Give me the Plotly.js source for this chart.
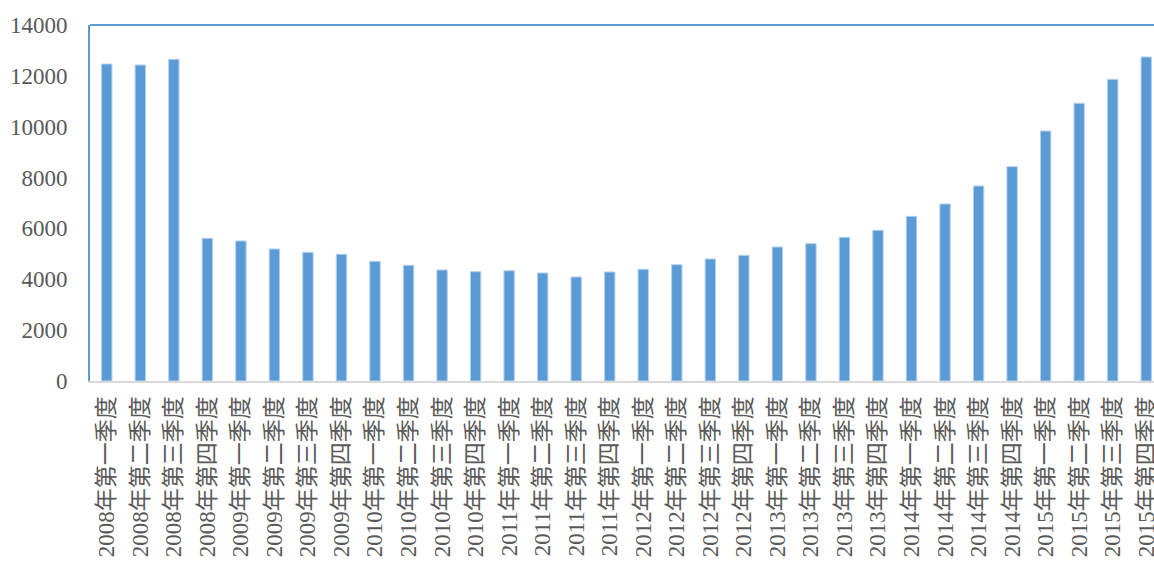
<!DOCTYPE html>
<html>
<head>
<meta charset="utf-8">
<script src="https://cdn.plot.ly/plotly-3.0.1.min.js"></script>
<style>
  html, body { margin: 0; padding: 0; overflow: hidden; background: #fff; }
  #chart { width: 1170px; height: 563px; }
</style>
</head>
<body>
<div id="chart"></div>
<script>
// Quarterly series, 2008 Q1 – 2015 Q4
const years = ['2008', '2009', '2010', '2011', '2012', '2013', '2014', '2015'];
const quarters = ['第一季度', '第二季度', '第三季度', '第四季度'];
const categories = [];
years.forEach(y => quarters.forEach(q => categories.push(y + '年' + q)));

const values = [
  12466, 12427, 12650, 5611,
  5506, 5191, 5061, 4982,
  4707, 4550, 4365, 4298,
  4337, 4247, 4090, 4287,
  4392, 4574, 4798, 4942,
  5270, 5401, 5650, 5925,
  6475, 6961, 7669, 8428,
  9831, 10921, 11864, 12742
];

const yTicks = [0, 2000, 4000, 6000, 8000, 10000, 12000, 14000];

const barColor = '#5B9BD5';
const textColor = '#595959';
const fontFamily = '"Liberation Serif", "Times New Roman", "Noto Sans CJK SC", serif';

const trace = {
  type: 'bar',
  x: categories,
  y: values,
  marker: { color: barColor, line: { color: '#b4d0ec', width: 1 } },
  hoverinfo: 'x+y'
};

const layout = {
  width: 1170,
  height: 563,
  margin: { l: 90, r: 7, t: 25, b: 182 },
  paper_bgcolor: '#ffffff',
  plot_bgcolor: '#ffffff',
  bargap: 0.69,
  showlegend: false,
  xaxis: {
    type: 'category',
    tickangle: -90,
    showgrid: false,
    showline: true,
    linecolor: '#d9d9d9',
    linewidth: 2,
    ticks: '',
    ticklabelstandoff: 4,
    tickfont: { family: fontFamily, size: 23, color: textColor },
    automargin: false
  },
  yaxis: {
    range: [0, 14000],
    tickvals: yTicks,
    ticktext: yTicks.map(String),
    showgrid: false,
    zeroline: false,
    showline: true,
    linecolor: barColor,
    linewidth: 2,
    ticks: '',
    ticklabelstandoff: 16,
    tickfont: { family: fontFamily, size: 23, color: textColor },
    automargin: false
  },
  shapes: [{
    type: 'line', xref: 'paper', yref: 'paper',
    x0: 0, x1: 1, y0: 1, y1: 1,
    line: { color: barColor, width: 2 }
  }]
};

Plotly.newPlot('chart', [trace], layout, { displayModeBar: false, staticPlot: true });
</script>
</body>
</html>
